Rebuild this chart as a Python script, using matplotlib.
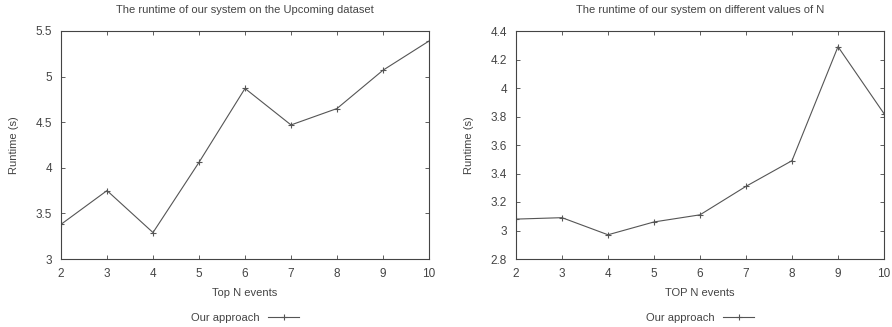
import matplotlib
matplotlib.use("Agg")
import matplotlib.pyplot as plt

plt.rcParams['font.family'] = ['Liberation Sans', 'DejaVu Sans']
plt.rcParams['font.size'] = 8

n_values = [2, 3, 4, 5, 6, 7, 8, 9, 10]
runtime_upcoming = [3.38, 3.75, 3.29, 4.06, 4.87, 4.47, 4.65, 5.07, 5.39]
runtime_n = [3.08, 3.09, 2.97, 3.06, 3.11, 3.31, 3.49, 4.29, 3.82]

left_title = "The runtime of our system on the Upcoming dataset"
right_title = "The runtime of our system on different values of N"
left_xlabel = "Top N events"
right_xlabel = "TOP N events"
ylabel = "Runtime (s)"
series_label = "Our approach"

left_yticks = [3, 3.5, 4, 4.5, 5, 5.5]
left_yticklabels = ["3", "3.5", "4", "4.5", "5", "5.5"]
right_yticks = [2.8, 3.0, 3.2, 3.4, 3.6, 3.8, 4.0, 4.2, 4.4]
right_yticklabels = ["2.8", "3", "3.2", "3.4", "3.6", "3.8", "4", "4.2", "4.4"]

W, H = 892, 327
fig = plt.figure(figsize=(W / 100, H / 100), dpi=100)

text_col = "#444444"
line_col = "#555555"

def make(ax_rect, y, title, xlabel, yticks, yticklabels, ylim, ylabelpad):
    l, r, t, b = ax_rect
    ax = fig.add_axes([l / W, 1 - b / H, (r - l) / W, (b - t) / H])
    ax.plot(n_values, y, color=line_col, lw=0.8, marker='+', ms=5, mew=0.8,
            label=series_label)
    ax.set_xlim(2, 10)
    ax.set_ylim(*ylim)
    ax.set_xticks(n_values)
    ax.set_yticks(yticks)
    ax.set_yticklabels(yticklabels)
    ax.tick_params(direction='in', top=True, right=True, length=3, width=0.6,
                   colors="#444444", labelcolor=text_col, labelsize=8.5, pad=6.5)
    for s in ax.spines.values():
        s.set_color("#444444")
        s.set_linewidth(0.8)
    ax.set_title(title, color=text_col, fontsize=8, pad=13)
    ax.set_xlabel(xlabel, color=text_col, fontsize=8, labelpad=6)
    ax.set_ylabel(ylabel, color=text_col, fontsize=8, labelpad=ylabelpad)
    ax.legend(loc='center', bbox_to_anchor=(0.5, (b - 318) / (b - t)),
              frameon=False, markerfirst=False, handlelength=2.8,
              fontsize=8, labelcolor=text_col, handletextpad=0.8)
    return ax

make((61, 429, 31, 259), runtime_upcoming, left_title, left_xlabel,
     left_yticks, left_yticklabels, (3, 5.5), 12)
make((516, 884, 31, 259), runtime_n, right_title, right_xlabel,
     right_yticks, right_yticklabels, (2.8, 4.4), 12)

fig.savefig("out.png", dpi=100)
